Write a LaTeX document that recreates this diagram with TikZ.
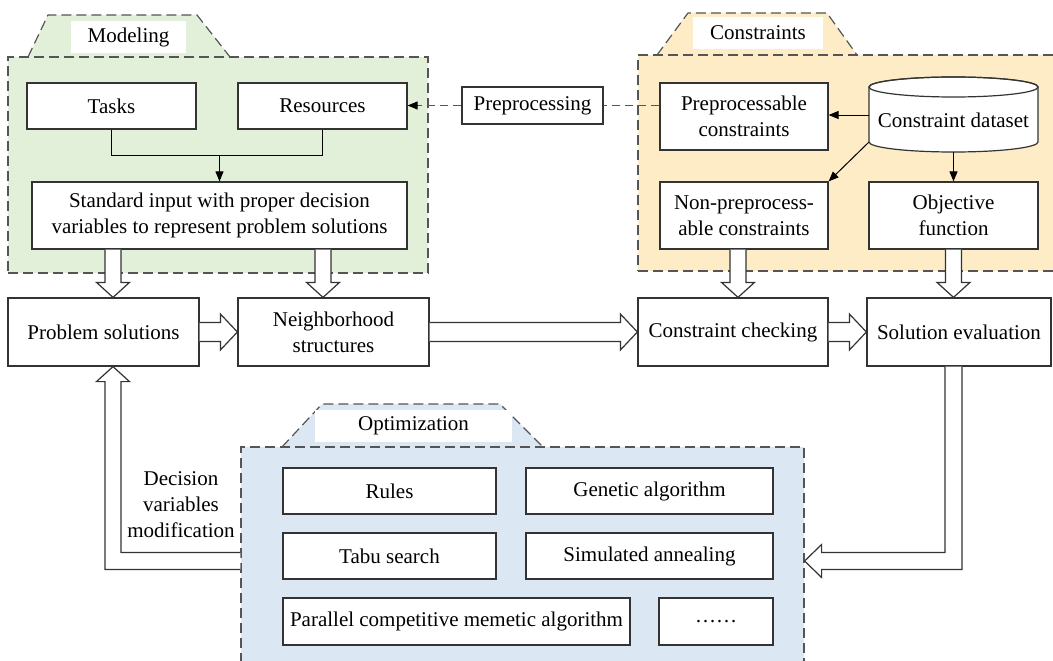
\documentclass[tikz,border=0pt]{standalone}
\usepackage{fontspec}
\setmainfont{Liberation Serif}
\usetikzlibrary{calc,arrows.meta}
\definecolor{mgreen}{RGB}{226,239,217}
\definecolor{cyellow}{RGB}{253,236,198}
\definecolor{oblue}{RGB}{220,231,244}
\definecolor{lc}{RGB}{51,51,51}
\definecolor{dc}{RGB}{85,85,85}
\newcommand\diafont{\fontsize{21}{26}\selectfont}
\newcommand\hdown[2]{\draw[hollow] ($(#1)+(-8,0)$) -- ($(#2)+(-8,-15)$) -- ($(#2)+(-16.5,-15)$) -- (#2) -- ($(#2)+(16.5,-15)$) -- ($(#2)+(8,-15)$) -- ($(#1)+(8,0)$);}
\newcommand\hright[2]{\draw[hollow] ($(#1)+(0,-9.5)$) -- ($(#2)+(-17,-9.5)$) -- ($(#2)+(-17,-18)$) -- (#2) -- ($(#2)+(-17,18)$) -- ($(#2)+(-17,9.5)$) -- ($(#1)+(0,9.5)$);}
\begin{document}
\begin{tikzpicture}[x=1pt,y=-1pt,
 box/.style={draw=lc,line width=1.2pt,fill=white,inner sep=0pt,align=center,font=\diafont},
 region/.style={draw=dc,line width=1.2pt,dash pattern=on 10pt off 5pt,inner sep=0pt},
 tabline/.style={draw=dc,line width=1.2pt,dash pattern=on 10pt off 5pt},
 tablabel/.style={fill=white,inner sep=0pt,font=\diafont},
 hollow/.style={draw=lc,line width=1.2pt,fill=white,line join=miter},
 conn/.style={draw=black,line width=1pt,-{Triangle[length=10pt,width=8pt]}},
 dconn/.style={draw=dc,line width=1.2pt,dash pattern=on 8pt off 5pt},
 lbl/.style={align=center,font=\diafont,inner sep=0pt}]
\useasboundingbox (0,0) rectangle (1053,661);
\clip (0,0) rectangle (1053,661);
\fill[white] (0,0) rectangle (1053,661);

% ---------- Modeling region
\fill[mgreen] (28,57) -- (48,15) -- (197,15) -- (230,57) -- cycle;
\node[region,fill=mgreen,minimum width=420pt,minimum height=216pt] (modeling) at (218,165) {};
\draw[tabline] (28,57) -- (48,15) -- (197,15) -- (230,57);
\node[tablabel,minimum width=115pt,minimum height=32pt] (modlbl) at (128.5,37) {Modeling};

% ---------- Constraints region
\fill[cyellow] (657,55) -- (688,13) -- (827,13) -- (857,55) -- cycle;
\node[region,fill=cyellow,minimum width=422pt,minimum height=216pt] (constraints) at (849,163) {};
\draw[tabline] (657,55) -- (688,13) -- (827,13) -- (857,55);
\node[tablabel,minimum width=130pt,minimum height=32pt] (conlbl) at (758,33) {Constraints};

% ---------- Optimization region
\fill[oblue] (282,447) -- (322,404) -- (500,404) -- (543,447) -- cycle;
\node[region,fill=oblue,minimum width=563pt,minimum height=228pt] (opt) at (522.5,561) {};
\draw[tabline] (282,447) -- (322,404) -- (500,404) -- (543,447);
\node[tablabel,minimum width=197pt,minimum height=32pt] (optlbl) at (413.5,426) {Optimization};

% ---------- Modeling boxes
\node[box,minimum width=169pt,minimum height=46pt] (tasks) at (111.5,106) {Tasks};
\node[box,minimum width=169pt,minimum height=46pt] (res) at (322.5,106) {Resources};
\node[box,minimum width=375pt,minimum height=67pt] (std) at (219.5,215.5) {Standard input with proper decision\\variables to represent problem solutions};

% ---------- Preprocessing
\node[box,minimum width=141pt,minimum height=37pt] (preproc) at (532.5,105.5) {Preprocessing};

% ---------- Constraint boxes
\node[box,minimum width=168pt,minimum height=67pt] (prep) at (744,116.5) {Preprocessable\\constraints};
\node[box,minimum width=168pt,minimum height=67pt] (nonprep) at (744,215.5) {Non-preprocess-\\able constraints};
\node[box,minimum width=169pt,minimum height=67pt] (obj) at (953.5,215.5) {Objective\\function};
\filldraw[draw=lc,line width=1.2pt,fill=white] (869,87) -- (869,142) arc[start angle=180,end angle=360,x radius=84.5pt,y radius=10pt] -- (1038,87) arc[start angle=0,end angle=180,x radius=84.5pt,y radius=10pt] -- cycle;
\draw[draw=lc,line width=1.2pt] (953.5,87) ellipse[x radius=84.5pt,y radius=10pt];
\node[lbl,minimum width=169pt,minimum height=64pt] (cds) at (953.5,120) {Constraint dataset};

% ---------- Middle row
\node[box,minimum width=191pt,minimum height=68pt] (ps) at (103.5,332) {Problem solutions};
\node[box,minimum width=191pt,minimum height=68pt] (ns) at (333.5,332) {Neighborhood\\structures};
\node[box,minimum width=190pt,minimum height=68pt] (cc) at (733,332) {Constraint checking};
\node[box,minimum width=184pt,minimum height=68pt] (se) at (959,332) {Solution evaluation};

% ---------- Optimization boxes
\node[box,minimum width=213pt,minimum height=46pt] (rules) at (389.5,491) {Rules};
\node[box,minimum width=247pt,minimum height=46pt] (ga) at (649.5,491) {Genetic algorithm};
\node[box,minimum width=213pt,minimum height=46pt] (tabu) at (389.5,556) {Tabu search};
\node[box,minimum width=247pt,minimum height=46pt] (sa) at (649.5,556) {Simulated annealing};
\node[box,minimum width=347pt,minimum height=47pt] (pcma) at (456.5,621.5) {Parallel competitive memetic algorithm};
\node[box,minimum width=114pt,minimum height=47pt] (dots) at (716,621.5) {……};

\node[lbl] (dvm) at (181,505) {Decision\\variables\\modification};

% ---------- thin connectors
\coordinate (j) at ($(tasks.south)+(0,26)$);
\draw[draw=black,line width=1pt] (tasks.south) -- (j) -| (res.south);
\draw[conn] (j -| std.north) -- (std.north);
\draw[dconn] (prep.west |- preproc.east) -- (preproc.east);
\draw[dconn] (preproc.west) -- ($(res.east |- preproc.west)+(9,0)$);
\draw[conn] ($(res.east |- preproc.west)+(10,0)$) -- (res.east |- preproc.west);
\coordinate (cw) at ($(cds.west)+(0,-5)$);
\draw[conn] (cw) -- (cw -| prep.east);
\draw[conn] ($(cds.south west)+(0,-10)$) -- (nonprep.north east);
\draw[conn] (cds.south) -- (obj.north);

% ---------- hollow arrows
\coordinate (xa) at (113,0);
\coordinate (xb) at (323,0);
\coordinate (xc) at (738,0);
\coordinate (xd) at (953.5,0);
\hdown{std.south -| xa}{ps.north -| xa}
\hdown{std.south -| xb}{ns.north -| xb}
\hdown{nonprep.south -| xc}{cc.north -| xc}
\hdown{obj.south}{se.north -| xd}
\hright{ps.east}{ns.west}
\hright{ns.east}{cc.west}
\hright{cc.east}{se.west}
\coordinate (t) at (ps.south -| xa);
\draw[hollow] ($(opt.west)+(0,-8.5)$) -| ($(t)+(8,15)$) -- ($(t)+(16.5,15)$) -- (t) -- ($(t)+(-16.5,15)$) -- ($(t)+(-8,15)$) |- ($(opt.west)+(0,8.5)$);
\draw[hollow] ($(se.south -| xd)+(8.5,0)$) |- ($(opt.east)+(17,8.5)$) -- ($(opt.east)+(17,16.5)$) -- (opt.east) -- ($(opt.east)+(17,-16.5)$) -- ($(opt.east)+(17,-8.5)$) -| ($(se.south -| xd)+(-8.5,0)$);
\end{tikzpicture}
\end{document}
